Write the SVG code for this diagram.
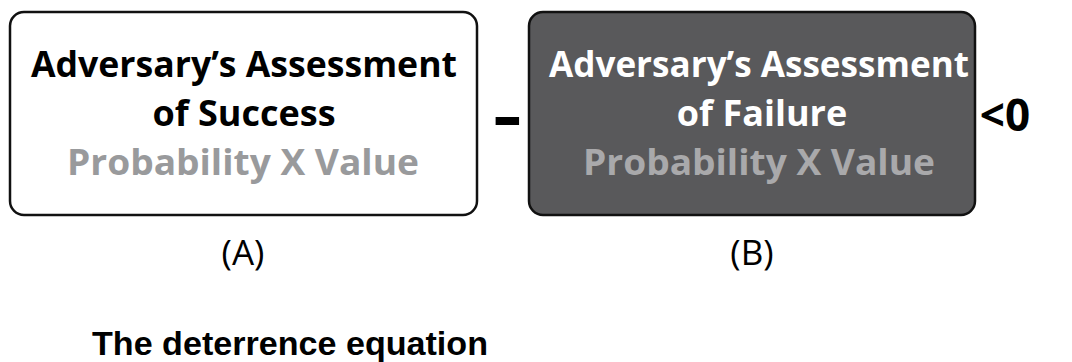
<svg xmlns="http://www.w3.org/2000/svg" width="1072" height="362" viewBox="0 0 1072 362">
<style>
.box{stroke:#111;stroke-width:2.5}
.t{font-family:"Open Sans","Liberation Sans",sans-serif;font-weight:700;font-size:36px;text-anchor:middle}
.lbl{font-family:"Open Sans","Liberation Sans",sans-serif;font-size:35px;text-anchor:middle;fill:#000}
</style>
<rect width="1072" height="362" fill="#fff"/>
<g id="nodeA">
<rect class="box" x="10" y="12" width="467" height="203" rx="14" fill="#fff"/>
<text class="t" x="244" y="77" fill="#000" textLength="426" lengthAdjust="spacingAndGlyphs">Adversary’s Assessment</text>
<text class="t" x="244" y="126" fill="#000">of Success</text>
<text class="t" x="243" y="175" fill="#999a9c" textLength="352" lengthAdjust="spacingAndGlyphs">Probability X Value</text>
</g>
<g id="nodeB">
<rect class="box" x="529" y="12" width="446" height="203" rx="14" fill="#59595b" stroke="#222"/>
<text class="t" x="759" y="77" fill="#fff" textLength="420" lengthAdjust="spacingAndGlyphs">Adversary’s Assessment</text>
<text class="t" x="762" y="126" fill="#fff">of Failure</text>
<text class="t" x="759" y="175" fill="#a9a9ab" textLength="352" lengthAdjust="spacingAndGlyphs">Probability X Value</text>
</g>
<g id="connectors"></g>
<g id="ops">
<text x="0" y="0" transform="translate(492 138) scale(1.4 1)" font-family="Liberation Sans" font-weight="700" font-size="66" fill="#000">-</text>
<text x="1005" y="131" font-family="Open Sans" font-weight="700" font-size="44" text-anchor="middle" fill="#000">&lt;0</text>
</g>
<g id="labels">
<text class="lbl" x="243" y="265">(A)</text>
<text class="lbl" x="752" y="265">(B)</text>
<text x="92" y="355" font-family="Liberation Sans" font-weight="700" font-size="34" textLength="396" lengthAdjust="spacingAndGlyphs" fill="#000">The deterrence equation</text>
</g>
</svg>
